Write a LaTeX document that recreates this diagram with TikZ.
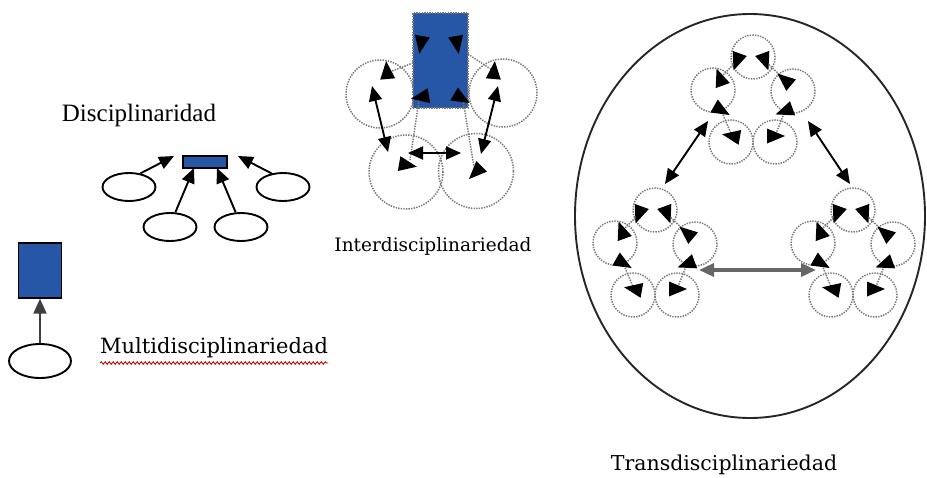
\documentclass[tikz,border=0pt]{standalone}
\usepackage{fontspec}
\setmainfont{Liberation Serif}
\newfontfamily\slab{DejaVu Serif}
\usetikzlibrary{arrows.meta,decorations.pathmorphing,shapes.geometric}
\definecolor{dblue}{RGB}{38,86,166}
\definecolor{dotgray}{RGB}{120,120,120}
\newcommand\ahead[3]{\fill[shift={(#1,#2)},rotate=#3] (10,0) -- (-8,7.5) -- (-8,-7.5) -- cycle;}
\newcommand\tcluster[3]{%
\begin{scope}[shift={(#1,#2)}]
  \node[dcirc=44pt] (#3t)  at (0,-48) {};
  \node[dcirc=44pt] (#3ul) at (-40,-15) {};
  \node[dcirc=44pt] (#3ur) at (40,-14) {};
  \node[dcirc=44pt] (#3ll) at (-22,37) {};
  \node[dcirc=44pt] (#3lr) at (22,37) {};
  \coordinate (#3a1) at (-16,-44);
  \coordinate (#3a2) at (12,-44);
  \coordinate (#3a3) at (-33,-27);
  \coordinate (#3a4) at (-32,5);
  \coordinate (#3a5) at (32,-25);
  \coordinate (#3a6) at (32,6);
  \coordinate (#3a7) at (-21,31);
  \coordinate (#3a8) at (22,31);
  \draw[dotl] (#3a1) -- (#3a3);
  \draw[dotl] (#3a2) -- (#3a5);
  \draw[dotl] (#3a4) -- (#3a7);
  \draw[dotl] (#3a6) -- (#3a8);
  \ahead{-16}{-44}{-110}
  \ahead{12}{-44}{-70}
  \ahead{-33}{-27}{110}
  \ahead{-32}{5}{-30}
  \ahead{32}{-25}{140}
  \ahead{32}{6}{200}
  \ahead{-21}{31}{170}
  \ahead{22}{31}{0}
\end{scope}}
\begin{document}
\begin{tikzpicture}[x=1pt,y=-1pt,
  oval/.style={ellipse, draw, line width=1.9pt, minimum width=53pt, minimum height=28pt, inner sep=0pt},
  blk/.style={draw=black, fill=dblue, line width=1.3pt, inner sep=0pt},
  dcirc/.style={circle, draw=dotgray, dash pattern=on 1.4pt off 1.2pt, line width=1.5pt, inner sep=0pt, minimum size=#1},
  arr/.style={-{Triangle[length=15pt,width=13pt]}, line width=1.9pt},
  darr/.style={{Triangle[length=15pt,width=13pt]}-{Triangle[length=15pt,width=13pt]}, line width=1.9pt},
  dotl/.style={draw=dotgray, dash pattern=on 1.4pt off 1.2pt, line width=1.5pt},
]
\useasboundingbox (0,0) rectangle (927,477);

% ---------- Disciplinaridad ----------
\node[font=\fontsize{25}{30}\selectfont] (tD) at (139,115) {Disciplinaridad};
\node[blk, minimum width=44pt, minimum height=12pt] (bD) at (205,162) {};
\node[oval] (oL)  at (129,187) {};
\node[oval] (oBL) at (170,227) {};
\node[oval] (oBR) at (241,227) {};
\node[oval] (oR)  at (283,187) {};
\coordinate (dL) at (174,156);
\coordinate (dR) at (238,156);
\coordinate (dBL) at (194,168);
\coordinate (dBR) at (217,168);
\draw[arr] (oL.50) -- (dL);
\draw[arr] (oR.130) -- (dR);
\draw[arr] (oBL.70) -- (dBL);
\draw[arr] (oBR.110) -- (dBR);

% ---------- Multidisciplinariedad ----------
\node[blk, minimum width=43pt, minimum height=55pt] (bM) at (40,270.5) {};
\node[oval, minimum width=62pt, minimum height=34pt] (oM) at (40,361) {};
\draw[arr, draw=black!75] (oM.north) -- (bM.south);
\node[font=\slab\fontsize{21}{25}\selectfont, anchor=base west, inner sep=0pt] (tM) at (100,353) {Multidisciplinariedad};
\draw[red!85!black, line width=0.9pt, decorate, decoration={snake,amplitude=1.3pt,segment length=4pt}]
  ([yshift=-10pt]tM.base west) -- ([yshift=-10pt]tM.base east);

% ---------- Interdisciplinariedad ----------
\node[dcirc=68pt] (cL)  at (380,94) {};
\node[dcirc=68pt] (cR)  at (503,93) {};
\node[dcirc=74pt] (cBL) at (406,172) {};
\node[dcirc=75pt] (cBR) at (476,171) {};
\node[fill=dblue, draw=dotgray, dash pattern=on 1.4pt off 1.2pt, line width=1.5pt, minimum width=55pt, minimum height=95pt, inner sep=0pt] (bI) at (440.5,60.5) {};
\coordinate (i1) at (413,63);
\coordinate (i2) at (387,73);
\coordinate (i3) at (468,54);
\coordinate (i4) at (492,70);
\coordinate (i5) at (419,100);
\coordinate (i6) at (410,160);
\coordinate (i7) at (463,100);
\coordinate (i8) at (474,167);
\draw[dotl] (i1) -- (i2);
\draw[dotl] (i3) -- (i4);
\draw[dotl] (i5) -- (i6);
\draw[dotl] (i7) -- (i8);
\ahead{421}{44}{-100}
\ahead{457}{44}{-80}
\ahead{421}{97}{190}
\ahead{461}{98}{-30}
\ahead{387}{71}{95}
\ahead{407}{165}{-10}
\ahead{494}{71}{85}
\ahead{476}{172}{-135}
\coordinate (iL1) at (372,86);
\coordinate (iL2) at (388,152);
\draw[darr] (iL1) -- (iL2);
\coordinate (iR1) at (498,86);
\coordinate (iR2) at (481,154);
\draw[darr] (iR1) -- (iR2);
\coordinate (iH1) at (408,153);
\coordinate (iH2) at (461,153);
\draw[darr] (iH1) -- (iH2);
\node[font=\slab\fontsize{18.5}{22}\selectfont, anchor=base, inner sep=0pt] (tI) at (433,251) {Interdisciplinariedad};

% ---------- Transdisciplinariedad ----------
\node[ellipse, draw=black!85, line width=1.9pt, minimum width=350pt, minimum height=404pt, inner sep=0pt] (E) at (750,216) {};
\tcluster{753}{105}{T}
\tcluster{655}{258}{L}
\tcluster{853}{258}{R}
\coordinate (x1) at (708,121);
\coordinate (x2) at (665,184);
\draw[darr] (x1) -- (x2);
\coordinate (x3) at (808,121);
\coordinate (x4) at (850,184);
\draw[darr] (x3) -- (x4);
\coordinate (x5) at (699,270);
\coordinate (x6) at (816,270);
\draw[darr, line width=3.4pt, draw=black!60] (x5) -- (x6);
\node[font=\slab\fontsize{20.5}{24}\selectfont, anchor=base, inner sep=0pt] (tT) at (724,470) {Transdisciplinariedad};
\end{tikzpicture}
\end{document}
